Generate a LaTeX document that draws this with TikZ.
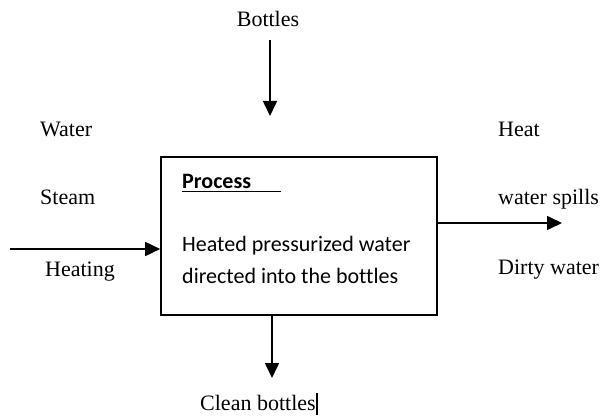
\documentclass[tikz,border=0pt]{standalone}
\usepackage{fontspec}
\setmainfont{Liberation Serif}
\newfontfamily\calib[Ligatures={NoCommon}]{Carlito}
\usetikzlibrary{arrows.meta}
\tikzset{
  lbl/.style={font=\fontsize{22}{26}\selectfont, inner sep=0pt, anchor=base west},
  ptxt/.style={font=\calib\fontsize{22}{26}\selectfont, inner sep=0pt, anchor=base west},
  flow/.style={line width=1.6pt, -{Triangle[length=15pt,width=14pt]}},
  procbox/.style={draw, line width=1.6pt, minimum width=276pt, minimum height=158pt, inner sep=0pt}
}
\begin{document}
\begin{tikzpicture}[x=1pt,y=1pt]
\useasboundingbox (0,0) rectangle (602,418);
\node[procbox] (box) at (299,182) {};
\node[ptxt, font=\calib\fontsize{22}{26}\selectfont\bfseries] (ptitle) at (182,229) {Process};
\draw[line width=1pt] (182,226) -- (281,226);
\node[ptxt] (pline1) at (182,166) {Heated pressurized water};
\node[ptxt] (pline2) at (182,135) {directed into the bottles};
\node[lbl, anchor=base] (bottles) at (268,391) {Bottles};
\node[lbl] (water) at (40,281) {Water};
\node[lbl] (steam) at (40,213) {Steam};
\node[lbl] (heating) at (45,142) {Heating};
\node[lbl] (heat) at (498,281) {Heat};
\node[lbl] (spills) at (498,213) {water spills};
\node[lbl] (dirty) at (498,143) {Dirty water};
\node[lbl] (clean) at (200,8) {Clean bottles};
\coordinate (cur) at (317,3);
\draw[line width=1.2pt] (cur) -- ++(0,22);
\coordinate (tin) at (270,378);
\coordinate (tout) at (270,302);
\draw[flow] (tin) -- (tout);
\coordinate (bout) at (272,40);
\draw[flow] (box.south -| bout) -- (bout);
\coordinate (lin) at (10,169);
\draw[flow] (lin) -- (lin -| box.west);
\coordinate (rout) at (562,195);
\draw[flow] (rout -| box.east) -- (rout);
\end{tikzpicture}
\end{document}
